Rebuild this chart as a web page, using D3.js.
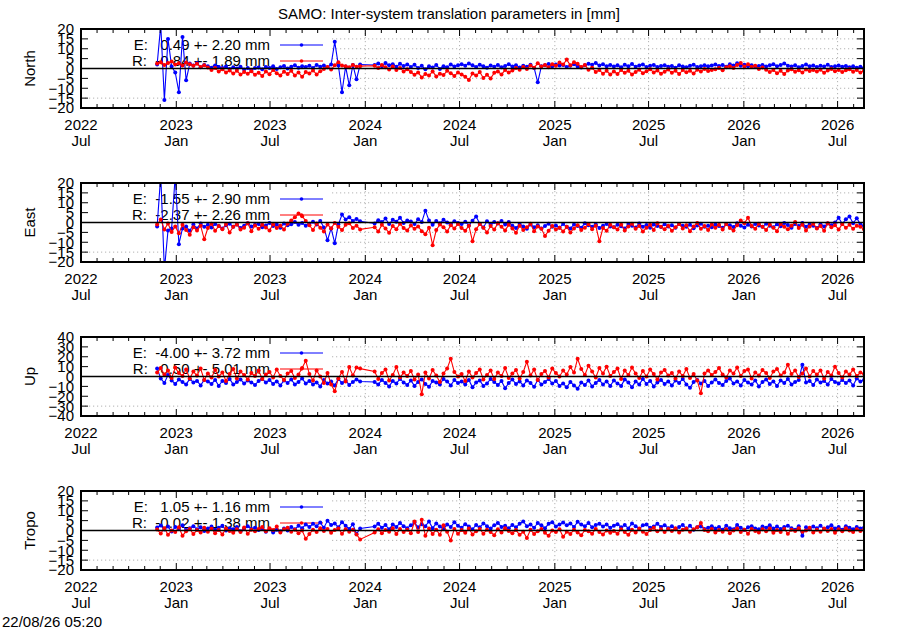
<!DOCTYPE html>
<html><head><meta charset="utf-8">
<script src="https://cdn.jsdelivr.net/npm/d3@7"></script>
<style>
body{margin:0;background:#fff}
svg text{font-family:"Liberation Sans",Arial,Helvetica,sans-serif;fill:#000}
</style>
</head><body><svg id="c" width="900" height="630"></svg>
<script>
const chartTitle = "SAMO: Inter-system translation parameters in [mm]";
const stampText = "22/08/26 05:20";
const panelNames = ["North", "East", "Up", "Tropo"];
const yLimits = [20, 20, 40, 20];
const yTickStep = [5, 5, 10, 5];
const legendE = ["E:   0.49 +- 2.20 mm", "E:  -1.55 +- 2.90 mm", "E:  -4.00 +- 3.72 mm", "E:   1.05 +- 1.16 mm"];
const legendR = ["R:  -0.84 +- 1.89 mm", "R:  -2.37 +- 2.26 mm", "R:   0.50 +- 5.01 mm", "R:  -0.02 +- 1.38 mm"];
const firstEpoch = "2022-11-25";
const epochStepDays = 7;
const axisStart = "2022-07-01";
const axisEnd = "2026-08-21";

const northE = [
 2, 22, -16, 15, 1, -2, -12, 16, -6, 2.5, 1.5, 2.8, 0.6, 1.8,
 1.2, 0.4, 1.5, 0.8, 0.2, 1.0, -0.3, 0.6, 0.0, 0.9, -0.5, 0.3, -0.8, 0.2,
 0.5, -0.4, 0.8, 0.2, 1.1, -0.2, 0.6, 1.3, 0.0, 0.9, 1.6, 0.4, 1.2, 0.7,
 1.4, 0.3, 1.8, 0.9, 1.5, 0.6, 2.0, 13.5, 1.5, -12, 1.0, -8.5, 1.8, -5.5,
 2.0, null, null, null, 1.8, 2.5, 1.2, 2.8, 1.6, 2.2, 0.9, 2.4, 1.3, 2.0,
 0.8, 1.9, 0.2, 1.4, -0.4, 1.1, 0.5, 1.8, -0.2, 1.2, 0.6, 2.0, 1.0, 1.7,
 2.2, 1.4, 2.5, 1.6, 0.8, 1.9, 1.2, 0.4, 1.5, 0.9, 1.8, 0.6, 1.3, 2.1,
 1.0, 1.7, 0.5, 1.4, 0.9, 1.9, 0.3, -7, 1.1, 1.6, 2.3, 1.2, 2.0, 1.5,
 1.8, 0.8, 1.4, 2.2, 1.0, 0.5, 1.7, 2.4, 1.9, 2.8, 1.5, 2.1, 1.2, 1.8,
 1.0, 1.6, 0.6, 1.9, 1.2, 2.3, 0.9, 1.5, 2.0, 0.7, 1.4, 1.8, 0.8, 1.3,
 1.7, 0.9, 1.3, 0.4, 1.6, 1.0, 0.6, 1.4, 1.9, 0.8, 1.2, 1.7, 1.1, 1.5,
 2.0, 1.3, 1.8, 0.9, 2.2, 1.5, 2.6, 1.4, 1.9, 1.1, 1.6, 0.7, 1.3, 1.8,
 1.0, 1.6, 2.1, 1.2, 1.8, 2.5, 1.4, 1.0, 1.7, 0.6, 1.3, 2.0, 1.1, 1.5,
 0.8, 1.4, 1.0, 1.9, 0.7, 1.2, 1.5, 0.9, 1.3, 0.6, 1.1, 0.4, 0.9, 0.2
];
const northR = [
 2.5, 3.2, 1.8, 2.8, 3.5, 2.0, 2.6, 1.5, 3.0, 2.2, 1.4, 2.4, 0.8, 1.6,
 0.5, -0.8, 0.2, -1.5, -0.4, -2.0, -1.0, -2.5, -1.2, -3.0, -1.8, -2.6, -1.4, -3.2,
 -2.2, -3.8, -1.5, -2.9, -0.8, -2.4, -3.5, -1.6, -2.8, -1.2, -3.6, -2.0, -4.2, -1.8,
 -2.5, -1.0, -3.0, -1.4, -0.2, 0.8, -0.5, 1.6, 3.2, 1.5, 1.2, 0.6, 1.8, 0.9,
 1.2, null, null, null, 1.4, 0.2, 1.8, 0.6, -0.5, 1.0, -0.8, 0.3, -1.5, -0.4,
 -1.8, -3.2, -2.0, -4.5, -2.8, -3.6, -1.5, -4.0, -2.6, -3.3, -1.2, -2.4, -3.8, -2.0,
 -3.0, -4.2, -5.8, -2.5, -3.6, -1.8, -4.8, -3.2, -5.0, -2.2, -1.5, -3.0, -0.8, -2.0,
 -1.0, 0.2, -0.6, 0.8, -0.2, 1.5, 0.4, 2.6, 1.0, 1.8, 0.6, 2.2, 1.4, 3.0,
 2.0, 4.5, 1.6, 3.2, 2.4, 0.8, 1.8, -0.6, 0.4, -1.8, -0.8, -2.6, -1.2, -3.0,
 -1.5, -2.8, -0.8, -2.2, -1.2, -3.0, -1.8, -0.6, -2.4, -1.4, -0.4, -2.0, -1.0, -2.6,
 -1.6, -0.5, -2.2, -1.2, -2.8, -0.8, -1.9, -1.1, -2.5, -0.6, -1.5, -0.2, -1.3, -0.7,
 -0.4, 0.3, -0.9, 0.6, 1.2, 0.2, 1.8, 2.8, 1.0, 2.2, 0.8, 1.4, -0.2, 0.5,
 -0.6, -1.8, -0.8, -2.4, -1.2, -2.8, -1.0, -0.4, -1.6, -0.9, -2.0, -0.5, -1.3, -0.8,
 -1.5, -0.6, -2.2, -1.0, -0.3, -1.4, -0.7, -1.8, -0.9, -0.4, -1.6, -0.8, -2.0, -1.2
];
const eastE = [
 -2, 24, -24, -4, -3, 24, -11, -3, -2.0, -4.2, -1.0, -3.0, -0.5, -2.2,
 -1.2, -2.5, -0.8, -1.8, -3.0, -1.4, -0.6, -2.2, -1.0, -2.8, -1.6, -0.4, -2.0, -1.2,
 -0.8, -2.4, -1.5, -0.2, -1.8, -1.0, -2.6, -0.5, -1.4, -0.9, 0.2, -1.2, -0.3, -1.6,
 -0.6, 0.4, -1.0, 0.8, -2.5, -9.0, -3.0, -10.5, -1.0, 4.0, 1.5, 2.6, 0.8, 1.8,
 0.6, null, null, null, -0.5, 1.2, 0.2, 2.0, -0.8, 1.4, 0.4, 2.4, -0.2, 1.0,
 0.5, -0.8, 1.6, 0.2, 6.0, 1.0, -1.2, 0.8, -0.4, 1.4, 0.0, -1.0, 0.6, -0.2,
 -0.8, 0.4, -1.5, 0.9, 3.0, -0.6, -2.5, 0.6, -1.2, 0.2, -0.5, 0.8, -1.0, 0.3,
 -1.6, -2.8, -0.7, -2.0, -3.2, -1.0, -2.4, -1.4, -3.0, -1.8, -0.6, -2.2, -1.5, -2.6,
 -0.8, -2.1, -3.0, -1.0, -1.8, -2.6, -0.4, -1.4, -2.2, -0.9, -2.8, -1.7, -0.7, -2.0,
 -2.4, -1.2, -1.9, -3.1, -0.8, -1.6, -2.5, -0.5, -2.1, -1.3, -2.7, -1.0, -1.8, -2.3,
 -0.9, -2.0, -1.4, -2.6, -0.7, -1.7, -2.2, -1.1, -2.9, -1.5, -0.6, -2.1, -1.6, -2.4,
 -1.0, -1.8, -2.7, -0.8, -1.4, -2.3, -0.4, -1.7, -2.5, -1.1, -2.0, -0.7, -1.5, -2.2,
 -0.6, -1.6, -2.4, -0.9, -1.9, -0.3, -1.3, -2.6, -0.8, -1.8, -0.2, -2.1, -1.0, -1.7,
 -2.8, -0.9, -2.0, -0.5, -1.4, 0.0, 2.4, -0.7, 1.6, 3.0, -0.4, 2.2, -0.8, -1.8
];
const eastR = [
 -1.0, 1.5, -3.5, -0.5, -4.8, -2.0, -5.5, -1.2, -3.8, -6.2, -2.4, -4.0, -1.6, -8.5,
 -2.8, -0.6, -4.2, -1.8, -3.4, -0.8, -5.0, -2.2, -1.0, -3.6, -2.6, -0.4, -4.4, -1.5,
 -3.2, -1.2, -2.5, -4.0, -0.9, -2.8, -1.6, -3.5, -0.6, 1.0, 2.6, 4.5, 3.2, 0.8,
 -1.4, -3.8, -0.5, -2.6, -4.5, -1.0, -3.0, -0.2, -2.2, -3.8, -1.2, -0.4, -2.8, -1.6,
 -3.5, null, null, null, -2.4, -4.6, -1.2, -3.0, -5.2, -1.8, -3.4, -0.6, -2.8, -4.0,
 -1.5, -3.2, -2.0, -4.4, -6.0, -2.6, -11.5, -3.8, -1.0, -2.4, -4.6, -1.4, -3.0, -0.8,
 -2.8, -4.2, -1.6, -9.5, -3.4, -0.8, -2.6, -5.0, -1.8, -3.6, -0.4, -2.2, -4.0, -1.2,
 -3.0, -5.2, -1.6, -3.8, -2.4, -0.6, -4.4, -2.0, -3.2, -6.8, -4.2, -1.8, -3.6, -2.6,
 -4.5, -2.2, -5.0, -3.0, -1.4, -3.8, -2.6, -0.8, -3.4, -1.6, -9.5, -2.8, -4.2, -1.2,
 -2.4, -3.6, -1.0, -4.0, -2.0, -0.6, -3.2, -1.8, -4.6, -2.6, -1.2, -3.8, -0.4, -2.2,
 -3.4, -1.6, -4.2, -2.4, -0.8, -3.0, -1.4, -4.4, -2.0, -0.2, -3.2, -1.8, -3.8, -1.0,
 -2.6, -1.2, -3.6, -0.8, -2.8, -4.0, -1.4, 1.0, -0.4, 2.4, -1.8, -3.2, -0.6, -2.2,
 -3.8, -1.0, -2.6, -4.4, -0.8, -2.2, -3.4, -1.6, 0.2, -2.8, -1.2, -4.0, -2.0, -0.6,
 -3.0, -1.8, -4.2, -0.4, -2.4, -1.4, -3.6, -0.8, -2.6, -1.2, -3.2, -1.6, -2.2, -3.4
];
const upE = [
 8.0, -2.0, -6.5, 1.5, -4.0, -7.5, -3.0, -5.5, -8.0, -2.5, -6.0, -4.5, -9.0, -3.5,
 -5.0, -7.5, -3.5, -9.5, -4.5, -6.5, -2.5, -8.0, -5.5, -3.0, -7.0, -4.0, -6.0, -8.5,
 -4.5, -2.5, -6.0, -3.5, -7.5, -5.0, -9.0, -4.0, -6.5, -3.0, -8.0, -5.5, -2.0, -7.0,
 -4.5, -8.0, -6.0, -10.0, -3.5, -7.0, -5.0, -9.0, -2.5, -6.5, -4.0, -8.5, -5.5, -3.0,
 -5.0, null, null, null, -5.5, -8.0, -3.5, -6.5, -10.0, -4.5, -7.0, -2.5, -6.0, -8.5,
 -4.0, -9.5, -5.5, -3.0, -7.5, -10.5, -4.5, -6.0, -8.0, -2.5, -5.0, -9.0, -3.5, -6.5,
 -5.0, -8.0, -3.5, -11.0, -6.0, -4.0, -9.5, -7.0, -2.5, -5.5, -8.5, -4.5, -12.0, -6.5,
 -3.0, -7.5, -5.0, -9.0, -4.0, -6.5, -10.5, -3.5, -8.0, -5.5, -2.5, -7.0, -4.5, -9.5,
 -7.0, -11.0, -5.5, -9.0, -12.5, -6.0, -8.5, -4.0, -10.0, -6.5, -3.5, -8.0, -5.0, -9.5,
 -4.0, -7.0, -9.5, -3.0, -6.0, -11.0, -5.0, -8.0, -2.5, -7.5, -4.5, -10.0, -6.0, -3.5,
 -7.5, -5.0, -9.0, -4.0, -6.5, -2.5, -8.0, -11.5, -5.5, -3.5, -7.0, -4.5, -9.5, -6.0,
 -3.0, -6.5, -8.5, -4.5, -2.0, -7.0, -5.0, -9.0, -3.5, -6.0, -8.0, -4.0, -10.0, -5.5,
 -3.0, -7.5, -5.0, -9.5, -4.0, -6.5, -2.5, -8.0, -5.5, -3.5, 12.0, -6.0, -4.5, -8.5,
 -3.0, -6.0, -4.5, -8.0, -2.5, -5.5, -7.0, -3.5, -6.5, -4.0, -9.0, -2.0, -5.0, -3.5
];
const upR = [
 4.0, 8.5, 2.0, 6.0, -1.5, 9.0, 3.5, 0.5, 7.0, -2.0, 5.0, 1.0, 8.0, -3.5,
 3.0, -1.0, 6.5, 0.0, 4.0, -4.5, 2.5, 7.5, -2.0, 5.0, 1.5, -3.0, 3.5, 0.5,
 6.0, -2.5, 2.0, 4.5, -1.0, 7.0, 0.5, -3.5, 3.0, 5.5, -1.5, 2.0, 8.5, 16.0,
 2.5, -4.0, 6.0, 0.0, -6.5, 3.5, -8.0, -15.0, -2.0, 4.5, -5.0, 9.5, 1.0, 9.0,
 8.0, null, null, null, 5.0, -2.5, 3.5, 7.0, -4.0, 1.5, 9.5, -1.0, 4.0, 0.5,
 5.5, -3.0, 2.0, -18.0, 4.0, -2.0, 6.5, 1.0, -5.5, 3.0, 8.0, 18.0, 4.5, 0.0,
 2.5, -4.5, 5.0, -1.0, 3.5, 7.0, -3.0, 1.5, 6.0, -2.5, 4.0, 0.5, 8.5, -1.5,
 3.0, 6.5, -2.0, 4.5, 15.0, 1.0, 7.0, -3.5, 2.5, 5.5, -1.0, 8.0, 3.5, 0.0,
 6.0, 2.0, 9.5, 4.0, 18.0, 7.5, 1.5, 11.0, 5.0, -1.0, 8.5, 3.0, 10.0, 0.5,
 4.5, 8.0, -2.5, 6.0, 1.5, 9.0, 3.0, -1.5, 5.5, 0.0, 7.0, 2.5, -3.0, 4.0,
 6.5, 1.0, 3.5, -2.0, 5.0, 0.5, 7.5, -1.5, 2.5, -4.0, -17.0, 3.0, 6.0, 1.5,
 4.5, 8.5, 2.0, -1.0, 6.0, 3.0, 9.0, 0.5, 5.5, 7.0, -2.0, 4.0, 1.0, 6.5,
 3.5, -1.5, 5.0, 7.5, 1.0, 4.0, 12.0, 2.5, 6.0, -0.5, 3.0, 8.0, 0.0, 5.5,
 2.0, 6.0, -2.0, 4.5, 1.0, 10.0, 3.5, -1.0, 5.0, 2.0, 7.0, 0.5, 4.0, 2.5
];
const tropoE = [
 1.5, 2.5, 0.5, 2.0, -0.5, 1.8, 0.8, 2.6, 0.2, 1.2, 2.2, 0.6, 1.6, -0.2,
 1.0, 2.0, 0.4, 1.4, 2.4, 0.0, 1.2, 0.6, 1.8, -0.4, 1.0, 2.2, 0.8, 1.4,
 0.2, 1.2, -0.6, 0.8, -1.0, 0.4, -0.4, 1.0, 0.0, 1.8, 0.6, 2.4, 1.2, 3.0,
 1.8, 3.4, 2.2, 4.0, 1.4, 5.0, 2.8, 3.6, 1.6, 4.2, 2.4, 0.8, 3.2, -1.8,
 1.0, null, null, null, 2.0, 3.4, 1.4, 2.8, 0.6, 3.0, 1.8, 3.8, 2.2, 1.2,
 2.6, 4.0, 1.6, 3.2, 2.2, 4.6, 1.2, 3.6, 2.0, 0.8, 3.0, 1.8, 4.2, 2.4,
 1.4, 3.2, 2.0, 0.6, 2.8, 1.6, 3.6, 2.2, 1.0, 2.6, 3.8, 1.8, 2.4, 1.2,
 2.8, 1.6, 3.4, 4.6, 2.2, 3.0, 1.4, 3.8, 2.6, 1.2, 3.4, 4.2, 2.0, 3.0,
 4.0, 2.6, 3.6, 1.8, 4.4, 3.0, 2.2, 3.8, 1.6, 2.8, 3.4, 2.0, 3.0, 1.4,
 2.4, 3.2, 1.6, 2.8, 1.0, 3.6, 2.2, 0.8, 2.6, 3.0, 1.4, 2.0, 3.4, 1.8,
 2.6, 1.2, 2.2, 0.6, 1.8, 2.8, 1.0, 2.4, 0.4, 1.6, 2.0, 0.8, 1.4, 2.2,
 1.0, 1.8, 0.4, 2.4, 1.2, 0.6, 2.8, 1.4, 0.2, 1.6, 2.2, 1.0, 0.6, 2.0,
 1.4, 2.6, 1.0, 2.0, 0.8, 1.8, 2.4, 1.2, 0.4, 2.2, -2.6, 1.6, 0.6, 2.0,
 1.2, 2.4, 0.8, 1.6, 2.6, 1.0, 1.8, 0.4, 2.2, 1.4, 0.6, 1.8, 1.0, 1.4
];
const tropoR = [
 0.5, -1.5, 1.2, -2.2, 0.0, -0.8, 1.6, -2.6, -0.4, 0.8, -1.8, 0.2, -1.0, 1.4,
 -0.6, 0.9, -1.4, 0.3, -2.0, 1.0, -0.2, -1.2, 0.6, -0.8, 1.5, -1.6, 0.4, -0.4,
 0.8, 1.8, -0.4, 1.2, 0.2, 2.0, -1.0, 0.6, 1.4, -0.6, 0.4, -1.4, 0.0, -4.2,
 -1.8, 0.4, -0.8, 1.2, -0.2, 0.8, -1.2, 0.2, 1.0, -1.6, 0.6, -0.6, 0.4, -2.0,
 -4.5, null, null, null, -1.0, 0.6, -1.4, 0.2, -0.6, 1.2, -1.8, 0.8, -0.8, 0.4,
 -1.4, 4.5, -0.8, 5.5, -2.6, 1.0, -1.8, 0.4, -2.2, 2.6, -0.6, -5.0, 0.8, -1.6,
 0.2, -1.2, 1.0, -2.0, -0.4, 0.8, -1.6, 0.4, -0.8, -2.4, 0.6, -1.0, 1.2, -0.2,
 -1.4, 0.2, -2.2, -0.6, -3.8, 0.4, -1.8, -0.4, 0.8, -1.2, -2.6, 0.0, -0.8, 0.6,
 -3.2, -0.6, -1.8, 0.4, -1.0, -2.4, 0.2, -0.4, -1.6, 0.8, -0.8, -2.0, 0.0, -1.2,
 -0.2, -1.6, 0.6, -0.8, -2.2, 0.4, -1.0, 1.0, -0.6, -1.8, 0.2, 1.4, -0.4, 0.6,
 -0.8, 0.8, -0.2, 1.2, -1.0, 0.4, 1.0, -0.6, 0.6, 1.6, 3.8, 0.2, -0.4, 0.8,
 -1.0, 0.2, -0.6, 0.6, -1.4, 0.0, 1.0, -0.8, 0.4, -1.6, 0.8, -0.2, -1.0, 0.6,
 -0.4, 1.0, -1.2, 0.2, -0.8, 0.8, -1.6, 0.4, -0.2, 1.2, -0.6, 0.0, 1.4, -1.0,
 0.4, -0.6, 1.0, -0.2, 0.8, -1.2, 0.6, -0.4, 1.2, 0.0, -0.8, 0.6, -0.2, 0.4
];

const seriesE = [northE, eastE, upE, tropoE];
const seriesR = [northR, eastR, upR, tropoR];

// ---------- layout ----------
const left = 81, right = 864;
const panelTop0 = 29, panelGap = 154, panelH = 79;
const keyRight = 332;
const fs = "15px";
const colE = "#0000ff", colR = "#ff0000";
const svg = d3.select("#c");

const parse = d3.utcParse("%Y-%m-%d");
const t0 = parse(firstEpoch);
const x = d3.scaleUtc().domain([parse(axisStart), parse(axisEnd)]).range([left, right]);

const monthTicks = d3.utcMonth.range(parse(axisStart), d3.utcDay.offset(parse(axisEnd), 1));
const majorTicks = monthTicks.filter(d => d.getUTCMonth() % 6 === 0);
const fmtY = d3.utcFormat("%Y"), fmtM = d3.utcFormat("%b");

svg.append("text").attr("x", 449).attr("y", 19).attr("text-anchor", "middle")
  .style("font-size", fs).text(chartTitle);
svg.append("text").attr("x", 2).attr("y", 627).style("font-size", fs).text(stampText);

panelNames.forEach((name, p) => {
  const top = panelTop0 + p * panelGap, bottom = top + panelH;
  const lim = yLimits[p];
  const y = d3.scaleLinear().domain([-lim, lim]).range([bottom, top]);
  const g = svg.append("g");
  const clipId = "clip" + p;
  svg.append("clipPath").attr("id", clipId).append("rect")
    .attr("x", left).attr("y", top).attr("width", right - left).attr("height", panelH);

  const yTicks = d3.range(-lim, lim + 0.001, yTickStep[p]);

  // grid
  const grid = g.append("g").attr("stroke", "#a0a0a0").attr("stroke-width", 0.8)
    .attr("stroke-dasharray", "1.2,2.8");
  yTicks.filter(v => v !== 0 && Math.abs(v) !== lim).forEach(v => {
    const xs = v > -0.7 * lim ? keyRight : left;
    grid.append("line").attr("x1", xs).attr("x2", right).attr("y1", y(v)).attr("y2", y(v));
  });
  majorTicks.filter(d => x(d) > keyRight && x(d) < right - 1).forEach(d => {
    grid.append("line").attr("x1", x(d)).attr("x2", x(d)).attr("y1", top).attr("y2", bottom);
  });

  // legend
  const keyTxtX = 270, keyLx1 = 280, keyLx2 = 323;
  [[legendE[p], colE, 16], [legendR[p], colR, 32]].forEach(([txt, col, dy]) => {
    g.append("text").attr("x", keyTxtX).attr("y", top + dy + 5).attr("text-anchor", "end")
      .style("font-size", fs).style("white-space", "pre").text(txt);
    g.append("line").attr("x1", keyLx1).attr("x2", keyLx2).attr("y1", top + dy).attr("y2", top + dy)
      .attr("stroke", col).attr("stroke-width", 1);
    g.append("circle").attr("cx", (keyLx1 + keyLx2) / 2).attr("cy", top + dy).attr("r", 1.8).attr("fill", col);
  });

  // data
  const dg = g.append("g").attr("clip-path", `url(#${clipId})`);
  [[seriesE[p], colE], [seriesR[p], colR]].forEach(([vals, col]) => {
    const pts = vals.map((v, i) => ({ d: d3.utcDay.offset(t0, i * epochStepDays), v }))
      .filter(o => o.v !== null);
    const line = d3.line().x(o => x(o.d)).y(o => y(o.v));
    dg.append("path").datum(pts).attr("d", line).attr("fill", "none")
      .attr("stroke", col).attr("stroke-width", 1.1);
    dg.selectAll(null).data(pts).enter().append("circle")
      .attr("cx", o => x(o.d)).attr("cy", o => y(o.v)).attr("r", 2).attr("fill", col);
  });

  // zero axis
  g.append("line").attr("x1", left).attr("x2", right).attr("y1", y(0)).attr("y2", y(0))
    .attr("stroke", "#000").attr("stroke-width", 1.4);

  // ticks
  const tk = g.append("g").attr("stroke", "#000").attr("stroke-width", 1);
  yTicks.forEach(v => {
    tk.append("line").attr("x1", left).attr("x2", left + 7).attr("y1", y(v)).attr("y2", y(v));
    tk.append("line").attr("x1", right).attr("x2", right - 7).attr("y1", y(v)).attr("y2", y(v));
    g.append("text").attr("x", 74).attr("y", y(v)).attr("dy", "0.36em").attr("text-anchor", "end")
      .style("font-size", fs).text(d3.format("d")(v));
  });
  monthTicks.forEach(d => {
    const major = d.getUTCMonth() % 6 === 0;
    const len = major ? 7 : 4;
    tk.append("line").attr("x1", x(d)).attr("x2", x(d)).attr("y1", bottom).attr("y2", bottom - len);
    tk.append("line").attr("x1", x(d)).attr("x2", x(d)).attr("y1", top).attr("y2", top + len);
  });
  majorTicks.forEach(d => {
    g.append("text").attr("x", x(d)).attr("y", bottom + 22).attr("text-anchor", "middle")
      .style("font-size", fs).text(fmtY(d));
    g.append("text").attr("x", x(d)).attr("y", bottom + 38).attr("text-anchor", "middle")
      .style("font-size", fs).text(fmtM(d));
  });

  // border
  g.append("rect").attr("x", left).attr("y", top).attr("width", right - left).attr("height", panelH)
    .attr("fill", "none").attr("stroke", "#000").attr("stroke-width", 2);

  // y label
  g.append("text").attr("transform", `translate(35,${(top + bottom) / 2}) rotate(-90)`)
    .attr("text-anchor", "middle").style("font-size", fs).text(name);
});
</script>
</body></html>
